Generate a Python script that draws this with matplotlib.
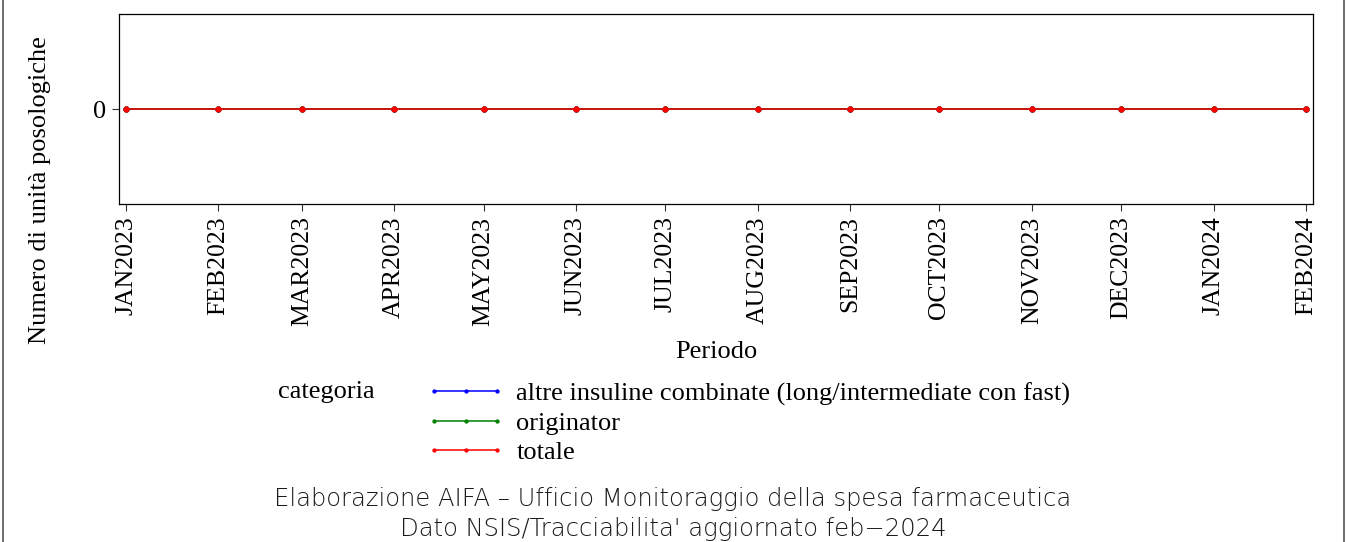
import matplotlib
matplotlib.use("Agg")
import matplotlib.pyplot as plt
from matplotlib.lines import Line2D
import pandas as pd

periods = ["JAN2023", "FEB2023", "MAR2023", "APR2023", "MAY2023", "JUN2023", "JUL2023",
           "AUG2023", "SEP2023", "OCT2023", "NOV2023", "DEC2023", "JAN2024", "FEB2024"]
dates = pd.to_datetime(periods, format="%b%Y")
altre = [0] * 14
originator = [0] * 14
totale = [0] * 14
series_names = ["altre insuline combinate (long/intermediate con fast)", "originator", "totale"]
series_colors = ["blue", "green", "red"]

plt.rcParams["font.family"] = ["Liberation Serif", "DejaVu Serif"]

W, H = 1347, 542
fig = plt.figure(figsize=(W / 100, H / 100), dpi=100)
ax = fig.add_axes([119 / W, 1 - 204 / H, (1313 - 119) / W, (204 - 14) / H])

for vals, name, col in zip([altre, originator, totale], series_names, series_colors):
    ax.plot(dates, vals, color=col, lw=1.1, marker="o", ms=3.5, label=name)

ax.set_ylim(-1, 1)
ax.set_yticks([0])
ax.set_yticklabels(["0"], fontsize=19)
ax.set_xticks(dates)
ax.set_xticklabels(periods, rotation=90, fontsize=18.5)
ax.margins(x=0.006)
ax.tick_params(axis="both", length=5, width=0.8, color="#333333", pad=4)
for s in ax.spines.values():
    s.set_linewidth(0.9)

fig.text(716 / W, 1 - 352 / H, "Periodo", ha="center", va="center", fontsize=19)
fig.text(40 / W, 1 - 190 / H, "Numero di unità posologiche", ha="center", va="center",
         rotation=90, fontsize=19)

fig.text(278 / W, 1 - 392 / H, "categoria", ha="left", va="center", fontsize=19)
handles, labels = ax.get_legend_handles_labels()
leg = fig.legend(handles, labels, loc="upper left", bbox_to_anchor=(426 / W, 1 - 382 / H),
                 frameon=False, fontsize=19, numpoints=3, handlelength=3.0,
                 handletextpad=0.42, labelspacing=0.22, borderpad=0, borderaxespad=0,
                 markerscale=0.6)

foot = ["Elaborazione AIFA \u2013 Ufficio Monitoraggio della spesa farmaceutica",
        "Dato NSIS/Tracciabilita' aggiornato feb\u22122024"]
fig.text(673 / W, 1 - 499 / H, foot[0], ha="center", va="center", fontsize=17.5,
         family=["DejaVu Sans"], fontweight="light", color="#1a1a1a")
fig.text(673 / W, 1 - 529 / H, foot[1], ha="center", va="center", fontsize=17.5,
         family=["DejaVu Sans"], fontweight="light", color="#1a1a1a")

fig.add_artist(Line2D([2.5 / W, 2.5 / W], [0, 1], color="#555555", lw=1.2, transform=fig.transFigure))
fig.add_artist(Line2D([1343.5 / W, 1343.5 / W], [0, 1], color="#555555", lw=1.2, transform=fig.transFigure))

fig.savefig("out.png", dpi=100)
